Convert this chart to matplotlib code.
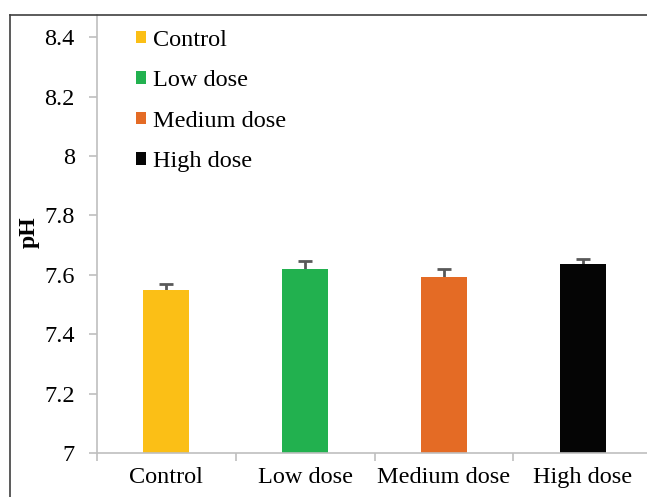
import matplotlib
matplotlib.use("Agg")
import matplotlib.pyplot as plt
from matplotlib.lines import Line2D
from matplotlib.patches import Patch

# data
groups = ["Control", "Low dose", "Medium dose", "High dose"]
ph_mean = [7.55, 7.62, 7.593, 7.635]
ph_err = [0.018, 0.026, 0.025, 0.018]
colors = ["#fbbf16", "#22b14f", "#e46b25", "#050505"]

plt.rcParams["font.family"] = ["Liberation Serif", "DejaVu Serif"]
W, H = 647, 497
FS = 17.5
fig = plt.figure(figsize=(W / 100, H / 100), dpi=100)

# axes box in pixel terms: left 97, bottom 453, top 15, right past the edge
ax = fig.add_axes([97 / W, 1 - 453 / H, (652 - 97) / W, (453 - 15) / H])
x = list(range(len(groups)))
ax.bar(x, ph_mean, width=0.33, color=colors, zorder=2)
# lower half of the error bar sits behind the bar, as in Excel
ax.errorbar(x, ph_mean, yerr=ph_err, fmt="none", ecolor="#595959",
            elinewidth=2, capsize=5, capthick=2, zorder=1)
ax.set_ylim(7, 8.475)
ax.set_xlim(-0.5, 3.5)
ax.set_yticks([7, 7.2, 7.4, 7.6, 7.8, 8, 8.2, 8.4])
ax.set_yticklabels(["7", "7.2", "7.4", "7.6", "7.8", "8", "8.2", "8.4"])
ax.set_xticks(x)
ax.set_xticklabels(groups)
ax.set_xticks([-0.5, 0.5, 1.5, 2.5, 3.5], minor=True)
ax.tick_params(axis="x", which="major", length=0, labelsize=FS, pad=10)
ax.tick_params(axis="x", which="minor", length=6, color="#bfbfbf", width=1.2)
ax.tick_params(axis="y", length=6, color="#bfbfbf", width=1.2, labelsize=FS, pad=10)
for s in ["top", "right"]:
    ax.spines[s].set_visible(False)
for s in ["left", "bottom"]:
    ax.spines[s].set_color("#bfbfbf")
    ax.spines[s].set_linewidth(1.2)
ax.set_ylabel("pH", fontsize=17, fontweight="bold")
ax.yaxis.set_label_coords(29 / W, 1 - 232 / H, transform=fig.transFigure)
ax.yaxis.label.set_va("center")

handles = [Patch(facecolor=c, edgecolor="none") for c in colors]
ax.legend(handles, groups, loc="upper left", bbox_to_anchor=(126 / W, 1 - 20 / H),
          bbox_transform=fig.transFigure, frameon=False, fontsize=FS,
          handlelength=0.42, handleheight=0.42, handletextpad=0.3, labelspacing=0.8,
          borderaxespad=0)

# outer frame, cropped at right and bottom
fig.add_artist(Line2D([10 / W, 10 / W], [0, 1 - 15 / H], color="#404040", lw=1.2))
fig.add_artist(Line2D([10 / W, 1], [1 - 15 / H, 1 - 15 / H], color="#404040", lw=1.2))

fig.savefig("out.png", dpi=100)
